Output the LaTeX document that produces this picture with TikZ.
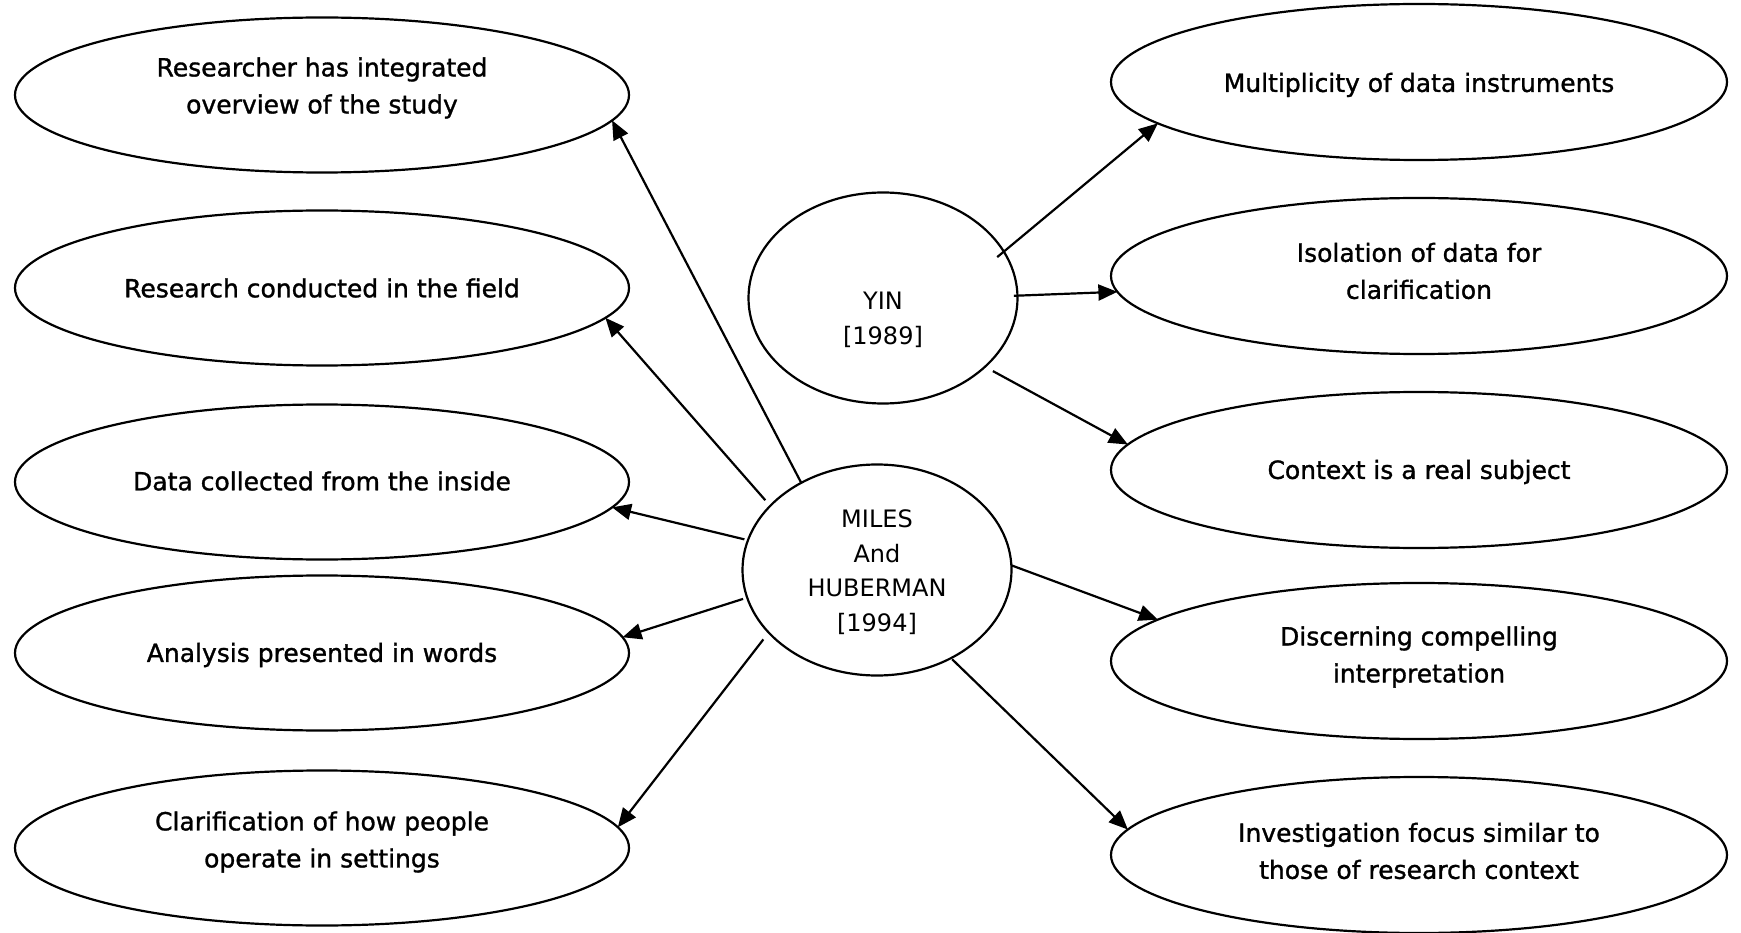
\documentclass[tikz,border=0pt]{standalone}
\usepackage{fontspec}
\setmainfont{DejaVu Sans}
\newfontfamily\boxfont{DejaVu Sans}[FakeBold=1.2]
\usetikzlibrary{shapes.geometric,arrows.meta}

\begin{document}
\begin{tikzpicture}[x=1pt,y=-1pt,
  every node/.style={inner sep=0pt,outer sep=0pt},
  leftbox/.style={draw,ellipse,line width=2.2pt,minimum width=614pt,minimum height=155pt},
  rightbox/.style={draw,ellipse,line width=2.2pt,minimum width=616pt,minimum height=156pt},
  hub/.style={draw,ellipse,line width=2.2pt,minimum width=269pt,minimum height=211pt},
  boxtext/.style={align=center,font=\boxfont\fontsize{25}{37}\selectfont},
  hubtext/.style={align=center,font=\fontsize{24}{34.5}\selectfont},
  arr/.style={line width=2.2pt,-{Triangle[length=19pt,width=16pt]}}]

\useasboundingbox (0,0) rectangle (1741,933);

% outcomes on the left (Miles and Huberman)
\node[leftbox] (e1) at (322,95)  {};
\node[leftbox] (e2) at (322,288) {};
\node[leftbox] (e3) at (322,482) {};
\node[leftbox] (e4) at (322,653) {};
\node[leftbox] (e5) at (322,848) {};
\node[boxtext] (e1t) at (322,88)  {Researcher has integrated\\overview of the study};
\node[boxtext] (e2t) at (322,288) {Research conducted in the field};
\node[boxtext] (e3t) at (322,481) {Data collected from the inside};
\node[boxtext] (e4t) at (322,655) {Analysis presented in words};
\node[boxtext] (e5t) at (322,842) {Clarification of how people\\operate in settings};

% outcomes on the right
\node[rightbox] (r1) at (1419,82)  {};
\node[rightbox] (r2) at (1419,276) {};
\node[rightbox] (r3) at (1419,470) {};
\node[rightbox] (r4) at (1419,661) {};
\node[rightbox] (r5) at (1419,855) {};
\node[boxtext] (r1t) at (1419,85)  {Multiplicity of data instruments};
\node[boxtext] (r2t) at (1419,271) {Isolation of data for\\clarification};
\node[boxtext] (r3t) at (1419,472) {Context is a real subject};
\node[boxtext] (r4t) at (1419,657) {Discerning compelling\\interpretation};
\node[boxtext] (r5t) at (1419,851) {Investigation focus similar to\\those of research context};

% the two sources
\node[hub] (yin) at (883,298) {};
\node[hubtext] (yint) at (883,320) {YIN\\{[1989]}};
\node[hub] (miles) at (877,570) {};
\node[hubtext] (milest) at (877,572) {MILES\\And\\HUBERMAN\\{[1994]}};

% connectors from Miles and Huberman
\draw[arr] (miles.131.9) -- (e1.355.2);
\draw[arr,shorten <=7.5pt] (miles.149.9) -- (e2.354.4);
\draw[arr,shorten <=3.7pt] (miles.167.8) -- (e3.355.5);
\draw[arr,shorten <=4.3pt] (miles.192.3) -- (e4.3.75);
\draw[arr,shorten <=8.7pt] (miles.210.6) -- (e5.4.42);
\draw[arr] (miles.2.8) -- (r4.171.8);
\draw[arr,shorten <=1.7pt] (miles.310.5) -- (r5.175.8);

% connectors from Yin
\draw[arr,shorten <=-8.6pt] (yin.21.4) -- (r1.189.8);
\draw[arr,shorten <=-3.6pt] (yin.1.8) -- (r2.183.4);
\draw[arr,shorten <=9pt] (yin.326.5) -- (r3.175.4);
\end{tikzpicture}
\end{document}
